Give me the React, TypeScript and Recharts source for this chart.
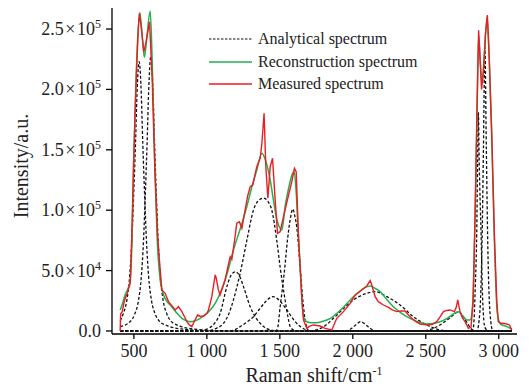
import { LineChart, Line, XAxis, YAxis } from "recharts";

// Raman shift (cm^-1) / intensity (a.u.) pairs
const measured: [number, number][] = [
  [406, 0], [409, 14000], [420, 16000], [435, 25000], [454, 31200], [475, 39700],
  [486, 80000], [497, 133000], [507, 175000], [518, 215000], [530, 250000], [538, 263000],
  [552, 250000], [568, 231000], [585, 240000], [607, 256000], [625, 210000], [644, 133300],
  [662, 80000], [680, 50500], [692, 34000], [714, 31200], [737, 24300], [760, 21000],
  [783, 17400], [805, 20100], [829, 16000], [850, 11000], [863, 7700], [880, 5000],
  [897, 3600], [908, 6400], [936, 13200], [955, 12000], [977, 12400], [1000, 14500],
  [1011, 17400], [1034, 28400], [1057, 46400], [1064, 44000], [1079, 34000], [1090, 29800],
  [1105, 35000], [1125, 42200], [1142, 52000], [1160, 61500], [1171, 59400], [1190, 75000],
  [1205, 89200], [1223, 90500], [1240, 85000], [1262, 100200], [1280, 112000], [1297, 119500],
  [1315, 120900], [1342, 136000], [1365, 143000], [1377, 155400], [1392, 180300], [1404, 136000],
  [1418, 109900], [1434, 136000], [1450, 143000], [1468, 108500], [1484, 80900], [1502, 82200],
  [1525, 94600], [1552, 108500], [1582, 123600], [1600, 134600], [1612, 131900], [1627, 80900],
  [1651, 25700], [1662, 9100], [1685, 2200], [1705, 4000], [1730, 5000], [1776, 4100],
  [1810, 2200], [1856, 800], [1890, 10500], [1936, 16000], [1982, 22900], [2016, 29800],
  [2062, 33900], [2096, 37300], [2119, 41700], [2130, 38100], [2153, 28400], [2175, 24300],
  [2210, 21500], [2244, 19600], [2270, 17500], [2301, 16000], [2330, 16500], [2358, 16600],
  [2380, 13500], [2404, 10500], [2430, 8000], [2461, 5800], [2518, 5000], [2545, 5500],
  [2575, 7700], [2600, 12000], [2621, 16000], [2645, 17000], [2666, 17400], [2696, 16000],
  [2710, 20000], [2719, 25700], [2735, 16000], [2750, 11000], [2769, 7700], [2792, 2200],
  [2810, 3000], [2825, 25000], [2840, 110000], [2850, 180000], [2862, 249000], [2872, 225000],
  [2882, 200000], [2895, 215000], [2908, 245000], [2922, 261600], [2935, 225000], [2952, 163700],
  [2970, 80000], [2986, 25700], [2997, 7700], [3010, 6500], [3021, 6400], [3050, 6000],
  [3073, 5000], [3089, 800],
];

const reconstruction: [number, number][] = [
  [406, 17400], [420, 22000], [440, 30000], [461, 35600], [475, 42000], [487, 75000],
  [497, 133000], [510, 190000], [525, 240000], [541, 263600], [556, 245000], [572, 226600],
  [590, 245000], [612, 265000], [625, 225000], [644, 133000], [660, 75000], [680, 42200],
  [700, 31000], [730, 24000], [760, 20100], [800, 14000], [829, 10500], [860, 8500],
  [886, 7700], [920, 8500], [954, 10500], [990, 13500], [1023, 17400], [1060, 23500],
  [1091, 31200], [1140, 48000], [1182, 67000], [1230, 85000], [1274, 103000], [1310, 120000],
  [1342, 133300], [1377, 147100], [1400, 142000], [1434, 125000], [1456, 108500], [1480, 92000],
  [1502, 85000], [1514, 83600], [1536, 103000], [1560, 118000], [1582, 129000], [1598, 131900],
  [1612, 115000], [1626, 81000], [1645, 40000], [1662, 11800], [1685, 7700], [1720, 6900],
  [1753, 6900], [1790, 7800], [1822, 9100], [1860, 11500], [1890, 14600], [1940, 20000],
  [1982, 25700], [2030, 31000], [2073, 35300], [2119, 37300], [2150, 35500], [2187, 32600],
  [2230, 26500], [2278, 20100], [2330, 15000], [2392, 10500], [2450, 7500], [2507, 5800],
  [2550, 6200], [2598, 7700], [2640, 10000], [2678, 13200], [2723, 16000], [2750, 13000],
  [2781, 9100], [2804, 9100], [2820, 20000], [2835, 80000], [2850, 170000], [2862, 245000],
  [2875, 220000], [2885, 205000], [2900, 225000], [2920, 260000], [2935, 225000], [2952, 160000],
  [2970, 75000], [2990, 15000], [3010, 6000], [3021, 5000], [3050, 4000], [3078, 2200],
  [3090, 1500],
];

// fitted (analytical) component bands
const band536: [number, number][] = [
  [406, 8500], [426, 14000], [451, 25000], [471, 45000], [486, 75000], [498, 111000],
  [511, 155000], [521, 195000], [536, 223000], [551, 195000], [561, 155000], [574, 111000],
  [586, 75000], [601, 45000], [621, 25000], [646, 14000], [676, 8000], [736, 4000],
  [836, 1500], [1036, 0], [3090, 0],
];
const band616: [number, number][] = [
  [406, 3500], [476, 8000], [506, 14000], [531, 25000], [551, 45000], [566, 75000],
  [578, 112000], [591, 158000], [601, 198000], [616, 227000], [631, 198000], [641, 158000],
  [654, 112000], [666, 75000], [681, 45000], [701, 25000], [726, 14000], [756, 8000],
  [816, 4000], [916, 1500], [1116, 0], [3090, 0],
];
const band1194: [number, number][] = [
  [406, 0], [900, 0], [950, 300], [1000, 1500], [1050, 6000], [1091, 14600], [1137, 36700],
  [1165, 46000], [1194, 49000], [1222, 46000], [1251, 36700], [1297, 20000], [1330, 12000],
  [1365, 6400], [1410, 2000], [1450, 500], [1500, 0], [3090, 0],
];
const band1388: [number, number][] = [
  [406, 0], [1000, 0], [1060, 2000], [1114, 6400], [1150, 14000], [1182, 25700], [1228, 47800],
  [1274, 75000], [1319, 100000], [1350, 107500], [1388, 110000], [1420, 107000], [1445, 100000],
  [1479, 75000], [1502, 53000], [1536, 25700], [1555, 12000], [1571, 3600], [1600, 500],
  [1640, 0], [3090, 0],
];
const band1452: [number, number][] = [
  [406, 0], [1150, 0], [1200, 1500], [1228, 3600], [1270, 7000], [1319, 11800], [1360, 18000],
  [1400, 24000], [1452, 28400], [1500, 25000], [1548, 17400], [1600, 8500], [1641, 3600],
  [1680, 1000], [1720, 0], [3090, 0],
];
const band1589: [number, number][] = [
  [406, 0], [1470, 0], [1484, 2000], [1502, 20000], [1530, 47800], [1552, 75000], [1572, 93000],
  [1589, 101000], [1603, 95000], [1616, 86000], [1639, 53000], [1662, 20000], [1680, 5000],
  [1696, 500], [1720, 0], [3090, 0],
];
const band2055: [number, number][] = [
  [406, 0], [1950, 0], [1990, 2000], [2020, 5000], [2055, 7700], [2090, 5000], [2120, 2000],
  [2160, 0], [3090, 0],
];
const band2153: [number, number][] = [
  [406, 0], [1700, 0], [1800, 3500], [1867, 10500], [1940, 19000], [2004, 25700], [2096, 31200],
  [2153, 32600], [2233, 28400], [2324, 21500], [2415, 11800], [2507, 5000], [2598, 800],
  [2650, 0], [3090, 0],
];
const band2725: [number, number][] = [
  [406, 0], [2480, 0], [2550, 2000], [2598, 5000], [2650, 9500], [2689, 13200], [2725, 16000],
  [2757, 11800], [2792, 5000], [2820, 1000], [2850, 0], [3090, 0],
];
const band2860: [number, number][] = [
  [406, 0], [2800, 0], [2826, 3000], [2840, 40000], [2849, 81000], [2855, 140000],
  [2860, 181000], [2866, 140000], [2879, 80000], [2890, 25000], [2905, 3000], [2930, 0],
  [3090, 0],
];
const band2905: [number, number][] = [
  [406, 0], [2850, 0], [2870, 15000], [2885, 70000], [2895, 150000], [2905, 235000],
  [2915, 150000], [2925, 70000], [2940, 15000], [2960, 0], [3090, 0],
];

const bands = [
  band536, band616, band1194, band1388, band1452, band1589,
  band2055, band2153, band2725, band2860, band2905,
];

const xTicks = [500, 1000, 1500, 2000, 2500, 3000];
const xTickLabels = ["500", "1 000", "1 500", "2 000", "2 500", "3 000"];
const yTicks = [0, 50000, 100000, 150000, 200000, 250000];
const yTickMantissa = ["0.0", "5.0", "1.0", "1.5", "2.0", "2.5"];
const yTickExponent = ["", "4", "5", "5", "5", "5"];

const legendItems = ["Analytical spectrum", "Reconstruction spectrum", "Measured spectrum"];

const FONT = "'Liberation Serif', 'Times New Roman', serif";
const RED = "#ec1c24";
const GREEN = "#22b14c";

const toPoints = (arr: [number, number][]) => arr.map(([x, y]) => ({ x, y }));

const XTick = ({ x, y, payload }: any) => {
  const i = xTicks.indexOf(payload.value);
  return (
    <text x={x} y={y + 16} textAnchor="middle" fontSize={18} fontFamily={FONT} fill="#222">
      {xTickLabels[i]}
    </text>
  );
};

const YTick = ({ x, y, payload }: any) => {
  const i = yTicks.indexOf(payload.value);
  return (
    <text x={x - 3} y={y + 6} textAnchor="end" fontSize={18} fontFamily={FONT} fill="#222">
      <tspan>{yTickMantissa[i]}</tspan>
      {yTickExponent[i] && (
        <>
          <tspan>{"\u200a×\u200a10"}</tspan>
          <tspan dy={-7} fontSize={12}>{yTickExponent[i]}</tspan>
        </>
      )}
    </text>
  );
};

export default function App() {
  return (
    <div style={{ position: "absolute", left: 0, top: 0, width: 529, height: 389, background: "#fff" }}>
      <LineChart
        width={529}
        height={389}
        margin={{ top: 8, right: 12, left: 0, bottom: 0 }}
      >
        <XAxis
          type="number"
          dataKey="x"
          domain={[350, 3125]}
          ticks={xTicks}
          tick={<XTick />}
          tickSize={5}
          height={55}
          allowDataOverflow
          axisLine={{ stroke: "#000", strokeWidth: 1.3 }}
          tickLine={{ stroke: "#000", strokeWidth: 1.3 }}
        />
        <YAxis
          type="number"
          domain={[-2500, 267400]}
          ticks={yTicks}
          tick={<YTick />}
          tickSize={6}
          width={112}
          allowDataOverflow
          axisLine={{ stroke: "#000", strokeWidth: 1.3 }}
          tickLine={{ stroke: "#000", strokeWidth: 1.3 }}
        />
        {bands.map((b, i) => (
          <Line
            key={i}
            data={toPoints(b)}
            dataKey="y"
            type="monotone"
            stroke="#111"
            strokeWidth={1.3}
            strokeDasharray="3 2"
            dot={false}
            isAnimationActive={false}
          />
        ))}
        <Line
          data={toPoints(reconstruction)}
          dataKey="y"
          type="monotone"
          stroke={GREEN}
          strokeWidth={1.5}
          dot={false}
          isAnimationActive={false}
        />
        <Line
          data={toPoints(measured)}
          dataKey="y"
          type="linear"
          stroke={RED}
          strokeWidth={1.4}
          dot={false}
          isAnimationActive={false}
        />
      </LineChart>

      {/* axis titles */}
      <div
        style={{
          position: "absolute",
          left: 0,
          top: 364,
          width: 628,
          textAlign: "center",
          fontFamily: FONT,
          fontSize: 20,
          color: "#222",
          lineHeight: "22px",
        }}
      >
        Raman shift/cm<sup style={{ fontSize: 12, verticalAlign: "7px", lineHeight: 0 }}>-1</sup>
      </div>
      <div
        style={{
          position: "absolute",
          left: 21,
          top: 166,
          transform: "translate(-50%, -50%) rotate(-90deg)",
          whiteSpace: "nowrap",
          fontFamily: FONT,
          fontSize: 20,
          color: "#222",
          lineHeight: "22px",
        }}
      >
        Intensity/a.u.
      </div>

      {/* legend */}
      <div style={{ position: "absolute", left: 208, top: 28, fontFamily: FONT, fontSize: 16, color: "#222" }}>
        {legendItems.map((label, i) => (
          <div key={label} style={{ display: "flex", alignItems: "center", height: 22.5 }}>
            <svg width={46} height={10} style={{ marginRight: 4 }}>
              <line
                x1={1}
                x2={44}
                y1={5}
                y2={5}
                stroke={i === 0 ? "#111" : i === 1 ? GREEN : RED}
                strokeWidth={i === 0 ? 1.2 : 1.6}
                strokeDasharray={i === 0 ? "2.5 1.5" : undefined}
              />
            </svg>
            <span>{label}</span>
          </div>
        ))}
      </div>
    </div>
  );
}
